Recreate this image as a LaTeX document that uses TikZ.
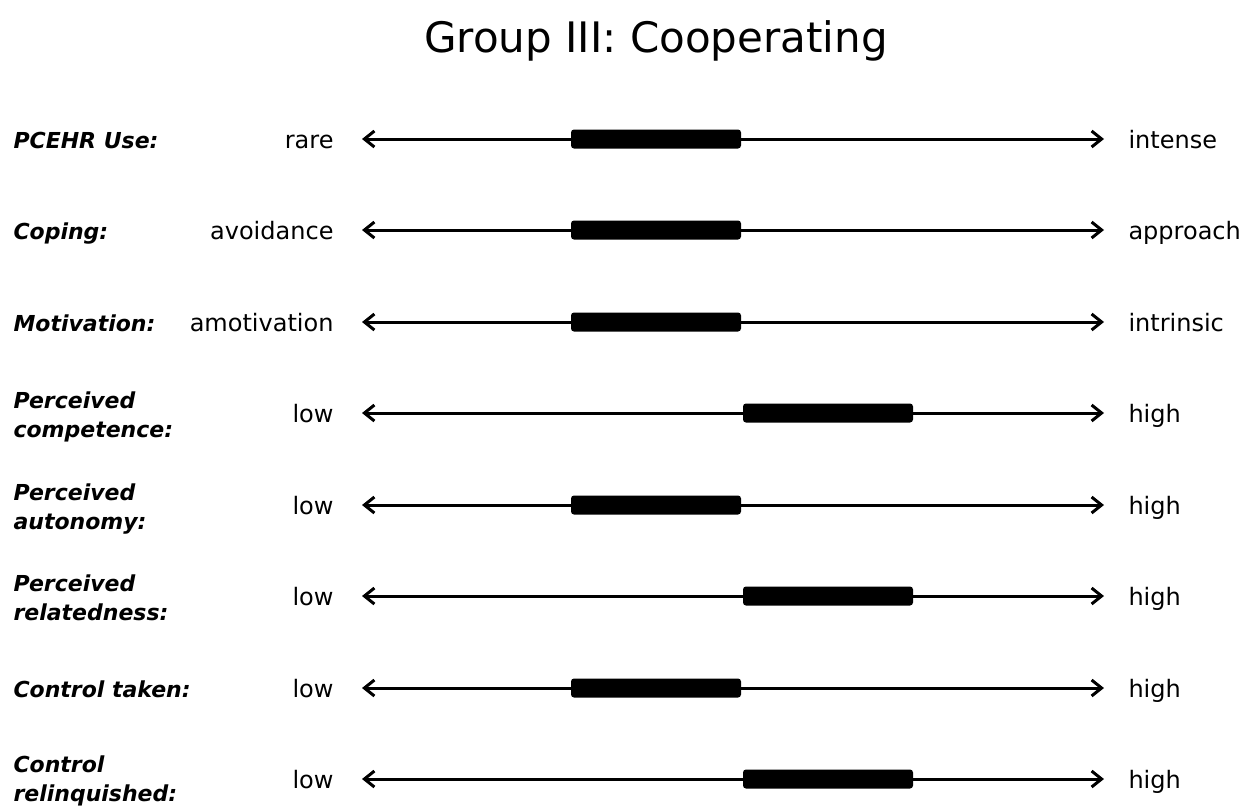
\documentclass[tikz,border=0pt]{standalone}
\usepackage{fontspec}
\setmainfont{DejaVu Sans}
\usepackage{tikz}
\usetikzlibrary{arrows.meta}

\begin{document}
\begin{tikzpicture}[x=1pt, y=-1pt, line width=3pt,
    lab/.style={inner sep=0pt, font=\fontsize{24}{29}\selectfont},
    cat/.style={lab, anchor=base west, align=left, font=\fontsize{22}{29}\selectfont\bfseries\itshape},
    lo/.style={lab, anchor=base east},
    hi/.style={lab, anchor=base west},
    bar/.style={fill=black, rounded corners=3pt, minimum width=170pt, minimum height=19pt, inner sep=0pt},
    scalearrow/.style={{Straight Barb[length=10pt,width=16pt]}-{Straight Barb[length=10pt,width=16pt]}}]
    \useasboundingbox (0,0) rectangle (1242,807);
    \node[anchor=base, inner sep=0pt, font=\fontsize{42}{50}\selectfont] (title) at (656,52) {Group III: Cooperating};
    % PCEHR use
    \coordinate (l1) at (362,139);
    \coordinate (r1) at (1104,139);
    \node[cat] (c1) at (12,148) {PCEHR Use:};
    \node[lo] (lo1) at (335,148) {rare};
    \node[hi] (hi1) at (1127,148) {intense};
    \draw[scalearrow] (l1) -- (r1);
    \node[bar] (b1) at (656,139) {};
    % coping
    \coordinate (l2) at (362,230);
    \coordinate (r2) at (1104,230);
    \node[cat] (c2) at (12,239) {Coping:};
    \node[lo] (lo2) at (335,239) {avoidance};
    \node[hi] (hi2) at (1127,239) {approach};
    \draw[scalearrow] (l2) -- (r2);
    \node[bar] (b2) at (656,230) {};
    % motivation
    \coordinate (l3) at (362,322);
    \coordinate (r3) at (1104,322);
    \node[cat] (c3) at (12,331) {Motivation:};
    \node[lo] (lo3) at (335,331) {amotivation};
    \node[hi] (hi3) at (1127,331) {intrinsic};
    \draw[scalearrow] (l3) -- (r3);
    \node[bar] (b3) at (656,322) {};
    % competence
    \coordinate (l4) at (362,413);
    \coordinate (r4) at (1104,413);
    \node[cat] (c4) at (12,437) {Perceived\\competence:};
    \node[lo] (lo4) at (335,422) {low};
    \node[hi] (hi4) at (1127,422) {high};
    \draw[scalearrow] (l4) -- (r4);
    \node[bar] (b4) at (828,413) {};
    % autonomy
    \coordinate (l5) at (362,505);
    \coordinate (r5) at (1104,505);
    \node[cat] (c5) at (12,529) {Perceived\\autonomy:};
    \node[lo] (lo5) at (335,514) {low};
    \node[hi] (hi5) at (1127,514) {high};
    \draw[scalearrow] (l5) -- (r5);
    \node[bar] (b5) at (656,505) {};
    % relatedness
    \coordinate (l6) at (362,596);
    \coordinate (r6) at (1104,596);
    \node[cat] (c6) at (12,620) {Perceived\\relatedness:};
    \node[lo] (lo6) at (335,605) {low};
    \node[hi] (hi6) at (1127,605) {high};
    \draw[scalearrow] (l6) -- (r6);
    \node[bar] (b6) at (828,596) {};
    % control taken
    \coordinate (l7) at (362,688);
    \coordinate (r7) at (1104,688);
    \node[cat] (c7) at (12,697) {Control taken:};
    \node[lo] (lo7) at (335,697) {low};
    \node[hi] (hi7) at (1127,697) {high};
    \draw[scalearrow] (l7) -- (r7);
    \node[bar] (b7) at (656,688) {};
    % control relinquished
    \coordinate (l8) at (362,779);
    \coordinate (r8) at (1104,779);
    \node[cat] (c8) at (12,801) {Control\\relinquished:};
    \node[lo] (lo8) at (335,788) {low};
    \node[hi] (hi8) at (1127,788) {high};
    \draw[scalearrow] (l8) -- (r8);
    \node[bar] (b8) at (828,779) {};
\end{tikzpicture}
\end{document}
